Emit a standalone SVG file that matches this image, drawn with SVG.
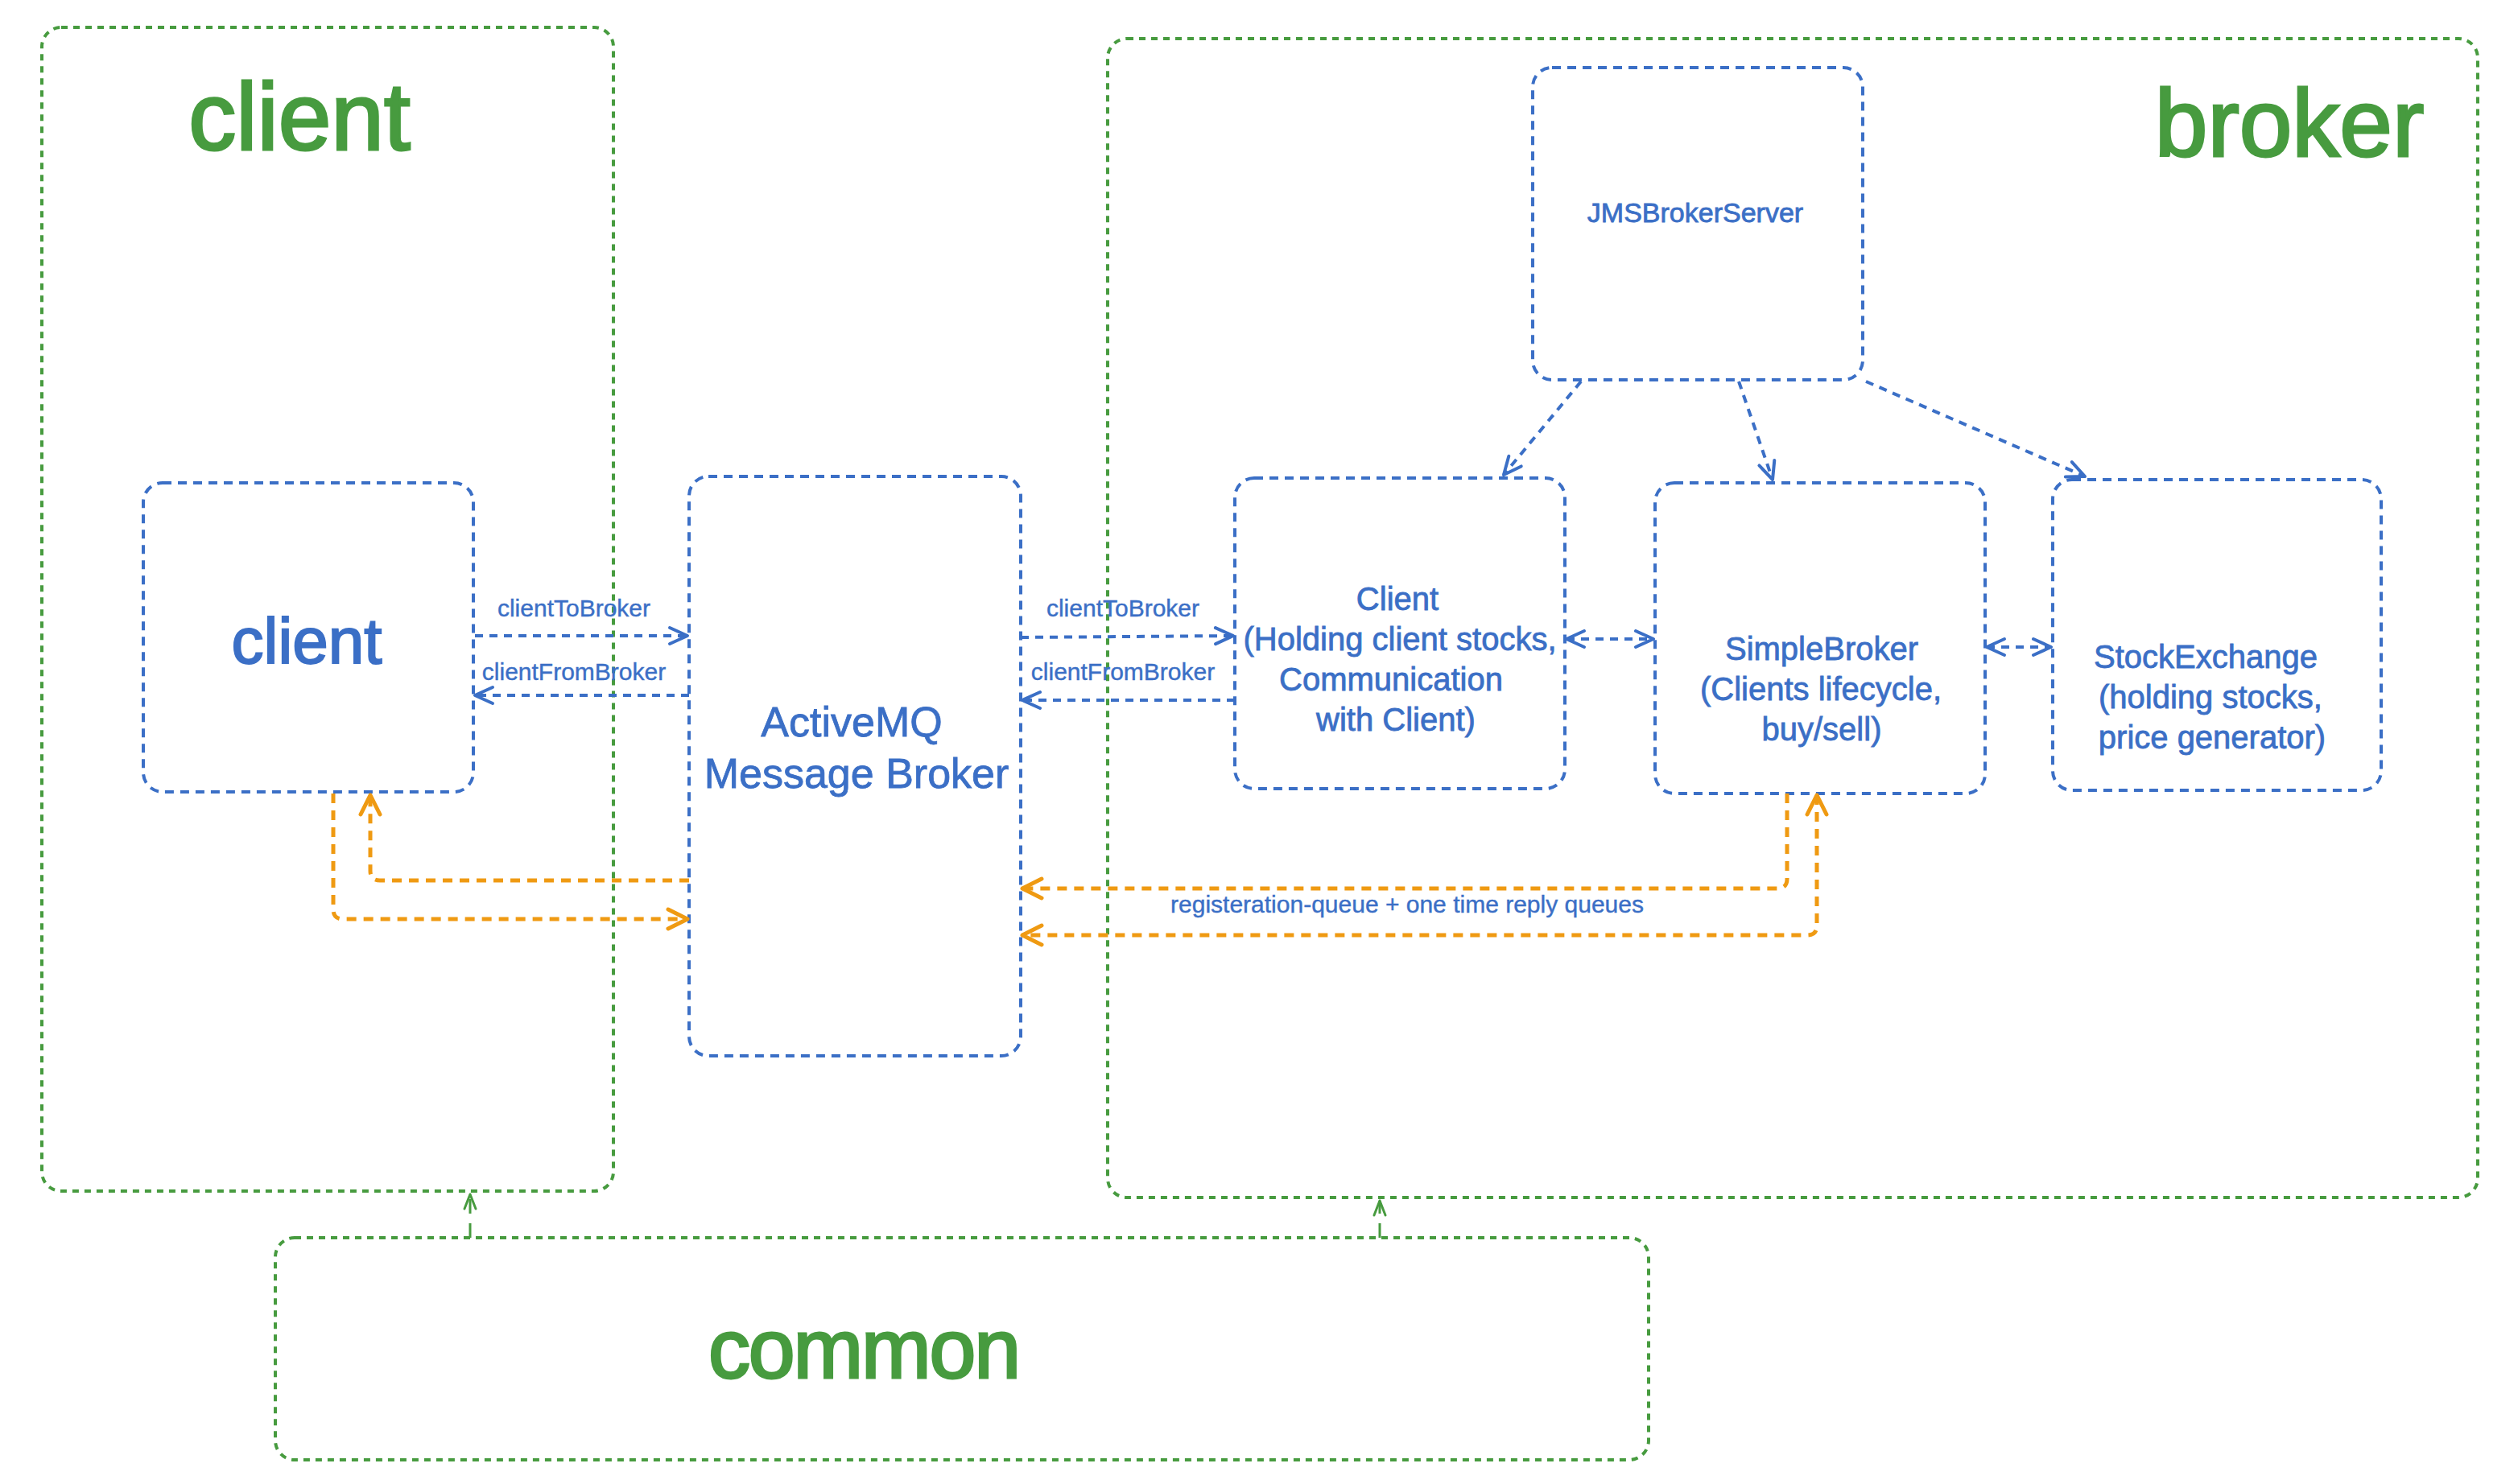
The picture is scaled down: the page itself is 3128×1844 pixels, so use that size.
<svg xmlns="http://www.w3.org/2000/svg" width="3128" height="1844" viewBox="0 0 3128 1844">
<style>
text { font-family: "Liberation Sans", Arial, sans-serif; }
.g { fill: none; stroke: #479b3f; stroke-width: 4; stroke-dasharray: 8 7; }
.b { fill: none; stroke: #3b6fc6; stroke-width: 4; stroke-dasharray: 11 8; }
.cb { fill: none; stroke: #3b6fc6; stroke-width: 4; stroke-dasharray: 10 8; }
.co { fill: none; stroke: #ef9a12; stroke-width: 5; stroke-dasharray: 12 9; }
.cg { fill: none; stroke: #479b3f; stroke-width: 3; stroke-dasharray: 18 12; }
.tg { fill: #479b3f; stroke: #479b3f; stroke-width: 3; }
.tb { fill: #3b6fc6; stroke: #3b6fc6; stroke-width: 0.8; }
.big { stroke-width: 2; }
.lbl { font-size: 30px; text-anchor: middle; stroke-width: 0.4; }
.body { font-size: 40px; text-anchor: middle; }
</style>
<defs>
<marker id="mb" markerUnits="userSpaceOnUse" markerWidth="30" markerHeight="26" viewBox="-26 -13 30 26" refX="0" refY="0" orient="auto-start-reverse">
<path d="M-22,-10 L0,0 L-22,10" fill="none" stroke="#3b6fc6" stroke-width="4" stroke-linecap="round" stroke-linejoin="round"/>
</marker>
<marker id="mo" markerUnits="userSpaceOnUse" markerWidth="32" markerHeight="30" viewBox="-28 -15 32 30" refX="0" refY="0" orient="auto-start-reverse">
<path d="M-24,-12 L0,0 L-24,12" fill="none" stroke="#ef9a12" stroke-width="5" stroke-linecap="round" stroke-linejoin="round"/>
</marker>
<marker id="mg" markerUnits="userSpaceOnUse" markerWidth="26" markerHeight="20" viewBox="-22 -10 26 20" refX="0" refY="0" orient="auto-start-reverse">
<path d="M-18,-7 L0,0 L-18,7" fill="none" stroke="#479b3f" stroke-width="3" stroke-linecap="round" stroke-linejoin="round"/>
</marker>
</defs>
<rect width="3128" height="1844" fill="#ffffff"/>

<g id="group-client">
<rect class="g" x="52" y="34" width="710" height="1446" rx="24"/>
<text class="tg" x="372" y="186" font-size="118" text-anchor="middle">client</text>
</g>
<g id="group-broker">
<rect class="g" x="1376" y="48" width="1702" height="1440" rx="24"/>
<text class="tg" x="2844" y="194" font-size="118" text-anchor="middle">broker</text>
</g>
<g id="group-common">
<rect class="g" x="342" y="1538" width="1706" height="276" rx="24"/>
<text class="tg" x="1074" y="1712" font-size="104" text-anchor="middle" textLength="388">common</text>
</g>

<g id="node-client">
<rect class="b" x="178" y="600" width="410" height="384" rx="24"/>
<text class="tb big" x="381" y="824" font-size="80" text-anchor="middle">client</text>
</g>
<g id="node-activemq">
<rect class="b" x="856" y="592" width="412" height="720" rx="24"/>
<text class="tb" x="1058" y="915" font-size="52" text-anchor="middle" stroke-width="1.2">ActiveMQ</text>
<text class="tb" x="1064" y="979" font-size="52" text-anchor="middle" stroke-width="1.2">Message Broker</text>
</g>
<g id="node-jmsbrokerserver">
<rect class="b" x="1904" y="84" width="410" height="388" rx="24"/>
<text class="tb" x="2106" y="276" font-size="34" text-anchor="middle">JMSBrokerServer</text>
</g>
<g id="node-client-broker">
<rect class="b" x="1534" y="594" width="410" height="386" rx="24"/>
<text class="tb body" x="1736" y="758">Client</text>
<text class="tb body" x="1739" y="808">(Holding client stocks,</text>
<text class="tb body" x="1728" y="858">Communication</text>
<text class="tb body" x="1734" y="908">with Client)</text>
</g>
<g id="node-simplebroker">
<rect class="b" x="2056" y="600" width="410" height="386" rx="24"/>
<text class="tb body" x="2263" y="820">SimpleBroker</text>
<text class="tb body" x="2262" y="870">(Clients lifecycle,</text>
<text class="tb body" x="2263" y="920">buy/sell)</text>
</g>
<g id="node-stockexchange">
<rect class="b" x="2550" y="596" width="408" height="386" rx="24"/>
<text class="tb body" x="2740" y="830">StockExchange</text>
<text class="tb body" x="2746" y="880">(holding stocks,</text>
<text class="tb body" x="2748" y="930">price generator)</text>
</g>

<g id="connectors">
<path class="cb" d="M590,790 L854,790" marker-end="url(#mb)"/>
<path class="cb" d="M856,864 L590,864" marker-end="url(#mb)"/>
<path class="cb" d="M1268,792 L1532,790" marker-end="url(#mb)"/>
<path class="cb" d="M1534,870 L1270,870" marker-end="url(#mb)"/>
<path class="cb" d="M1946,794 L2054,794" marker-start="url(#mb)" marker-end="url(#mb)"/>
<path class="cb" d="M2468,804 L2548,804" marker-start="url(#mb)" marker-end="url(#mb)"/>
<path class="cb" d="M1964,474 L1868,590" marker-end="url(#mb)"/>
<path class="cb" d="M2160,474 L2202,596" marker-end="url(#mb)"/>
<path class="cb" d="M2318,474 L2590,592" marker-end="url(#mb)"/>
<path class="co" d="M856,1094 L472,1094 Q460,1094 460,1082 L460,988" marker-end="url(#mo)"/>
<path class="co" d="M414,986 L414,1130 Q414,1142 426,1142 L854,1142" marker-end="url(#mo)"/>
<path class="co" d="M2220,986 L2220,1092 Q2220,1104 2208,1104 L1270,1104" marker-end="url(#mo)"/>
<path class="co" d="M2257,988 L2257,1150 Q2257,1162 2245,1162 L1270,1162" marker-start="url(#mo)" marker-end="url(#mo)"/>
<path class="cg" d="M584,1538 L584,1484" marker-end="url(#mg)"/>
<path class="cg" d="M1714,1538 L1714,1492" marker-end="url(#mg)"/>
<text class="tb lbl" x="713" y="766">clientToBroker</text>
<text class="tb lbl" x="713" y="845">clientFromBroker</text>
<text class="tb lbl" x="1395" y="766">clientToBroker</text>
<text class="tb lbl" x="1395" y="845">clientFromBroker</text>
<text class="tb lbl" x="1748" y="1134">registeration-queue + one time reply queues</text>
</g>
</svg>
